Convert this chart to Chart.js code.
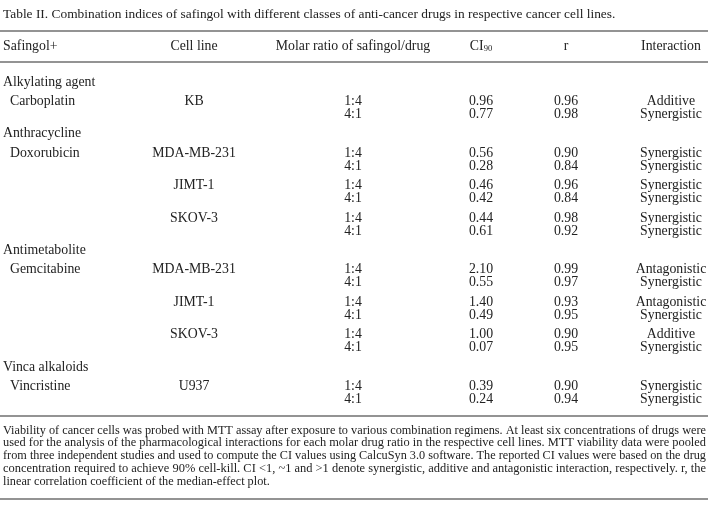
<!DOCTYPE html>
<html>
<head>
<meta charset="utf-8">
<script src="https://cdn.jsdelivr.net/npm/chart.js@4"></script>
<style>
  html, body { margin: 0; padding: 0; background: #fff; }
  canvas { display: block; }
</style>
</head>
<body>
<canvas id="tbl" width="708" height="519"></canvas>
<script>
// table content
const title = "Table II. Combination indices of safingol with different classes of anti-cancer drugs in respective cancer cell lines.";
const headers = ["Safingol+", "Cell line", "Molar ratio of safingol/drug", "CI", "r", "Interaction"];
const classes = ["Alkylating agent", "Anthracycline", "Antimetabolite", "Vinca alkaloids"];
const drugs = ["Carboplatin", "Doxorubicin", "Gemcitabine", "Vincristine"];
const cell_lines = [["KB"], ["MDA-MB-231", "JIMT-1", "SKOV-3"], ["MDA-MB-231", "JIMT-1", "SKOV-3"], ["U937"]];
const ratios = ["1:4", "4:1"];
const ci90 = [[0.96, 0.77], [0.56, 0.28], [0.46, 0.42], [0.44, 0.61], [2.10, 0.55], [1.40, 0.49], [1.00, 0.07], [0.39, 0.24]];
const r_vals = [[0.96, 0.98], [0.90, 0.84], [0.96, 0.84], [0.98, 0.92], [0.99, 0.97], [0.93, 0.95], [0.90, 0.95], [0.90, 0.94]];
const interactions = [
    ["Additive", "Synergistic"], ["Synergistic", "Synergistic"], ["Synergistic", "Synergistic"], ["Synergistic", "Synergistic"],
    ["Antagonistic", "Synergistic"], ["Antagonistic", "Synergistic"], ["Additive", "Synergistic"], ["Synergistic", "Synergistic"]
];
const note_lines = [
    "Viability of cancer cells was probed with MTT assay after exposure to various combination regimens. At least six concentrations of drugs were",
    "used for the analysis of the pharmacological interactions for each molar drug ratio in the respective cell lines. MTT viability data were pooled",
    "from three independent studies and used to compute the CI values using CalcuSyn 3.0 software. The reported CI values were based on the drug",
    "concentration required to achieve 90% cell-kill. CI <1, ~1 and >1 denote synergistic, additive and antagonistic interaction, respectively. r, the",
    "linear correlation coefficient of the median-effect plot."
];

// layout (in scale units, which equal canvas pixels here)
const W = 708, H = 519;
const FONT = "Liberation Serif, Times New Roman, serif";
const INK = "#222";
const col_x = [3, 194, 353, 481, 566, 671];
const DRUG_INDENT = 7;
const TITLE_Y = 14, HEAD_Y = 46, FIRST_Y = 82, PAIR = 13, GAP = 19.4;
const RULES = [31, 62, 416, 499];
const NOTE_Y = 430, NOTE_LH = 12.8;
const TITLE_PX = 13.4, CELL_PX = 13.8, NOTE_PX = 13.4;

function fmt(v) { return v.toFixed(2); }

function build_cells() {
    const cols = [[], [], [], [], [], []];
    let y = FIRST_Y;
    let blk = 0;
    classes.forEach(function (cls, g) {
        cols[0].push({ x: col_x[0], y: y, t: cls });
        y += GAP;
        cell_lines[g].forEach(function (cl, j) {
            if (j === 0) cols[0].push({ x: col_x[0] + DRUG_INDENT, y: y, t: drugs[g] });
            cols[1].push({ x: col_x[1], y: y, t: cl });
            for (let k = 0; k < 2; k++) {
                cols[2].push({ x: col_x[2], y: y, t: ratios[k] });
                cols[3].push({ x: col_x[3], y: y, t: fmt(ci90[blk][k]) });
                cols[4].push({ x: col_x[4], y: y, t: fmt(r_vals[blk][k]) });
                cols[5].push({ x: col_x[5], y: y, t: interactions[blk][k] });
                if (k === 0) y += PAIR;
            }
            y += GAP;
            blk++;
        });
    });
    return cols;
}

const cells = build_cells();
const aligns = ["left", "center", "center", "center", "center", "center"];

const datasets = cells.map(function (pts, i) {
    return { type: "scatter", data: pts, pointRadius: 0, cellAlign: aligns[i] };
});
RULES.forEach(function (ry) {
    datasets.push({
        type: "line", data: [{ x: 0, y: ry }, { x: W, y: ry }],
        borderColor: "#6f6f6f", borderWidth: 1.4, pointRadius: 0, isRule: true
    });
});

const textPlugin = {
    id: "tableText",
    afterDatasetsDraw(chart) {
        const ctx = chart.ctx;
        const xs = chart.scales.x, ys = chart.scales.y;
        ctx.save();
        ctx.fillStyle = INK;
        ctx.textBaseline = "middle";

        // title
        ctx.font = TITLE_PX + "px " + FONT;
        ctx.textAlign = "left";
        ctx.fillText(title, xs.getPixelForValue(3), ys.getPixelForValue(TITLE_Y));

        // header row
        ctx.font = CELL_PX + "px " + FONT;
        headers.forEach(function (h, i) {
            const px = xs.getPixelForValue(col_x[i]);
            const py = ys.getPixelForValue(HEAD_Y);
            if (i === 3) {
                const w1 = ctx.measureText(h).width;
                ctx.font = "8.5px " + FONT;
                const w2 = ctx.measureText("90").width;
                const left = px - (w1 + w2) / 2;
                ctx.textAlign = "left";
                ctx.fillText("90", left + w1, py + 3);
                ctx.font = CELL_PX + "px " + FONT;
                ctx.fillText(h, left, py);
            } else {
                ctx.textAlign = aligns[i];
                ctx.fillText(h, px, py);
            }
        });

        // cells
        chart.data.datasets.forEach(function (ds, i) {
            if (ds.isRule) return;
            const meta = chart.getDatasetMeta(i);
            ctx.textAlign = ds.cellAlign;
            meta.data.forEach(function (el, j) {
                ctx.fillText(ds.data[j].t, el.x, el.y);
            });
        });

        // footnote: full lines squeezed to the column width, last line at the same squeeze
        ctx.textAlign = "left";
        ctx.font = NOTE_PX + "px " + FONT;
        const left = xs.getPixelForValue(3), right = xs.getPixelForValue(706);
        const span = right - left;
        let squeeze = 1;
        note_lines.slice(0, -1).forEach(function (l) {
            squeeze = Math.min(squeeze, span / ctx.measureText(l).width);
        });
        note_lines.forEach(function (line, i) {
            const py = ys.getPixelForValue(NOTE_Y + i * NOTE_LH);
            const last = i === note_lines.length - 1;
            const w = last ? ctx.measureText(line).width * squeeze : span;
            ctx.fillText(line, left, py, w);
        });
        ctx.restore();
    }
};

new Chart(document.getElementById("tbl"), {
    data: { datasets: datasets },
    options: {
        responsive: false,
        animation: false,
        layout: { padding: 0 },
        plugins: { legend: { display: false }, tooltip: { enabled: false } },
        scales: {
            x: { type: "linear", min: 0, max: W, display: false },
            y: { type: "linear", min: 0, max: H, reverse: true, display: false }
        }
    },
    plugins: [textPlugin]
});
</script>
</body>
</html>
